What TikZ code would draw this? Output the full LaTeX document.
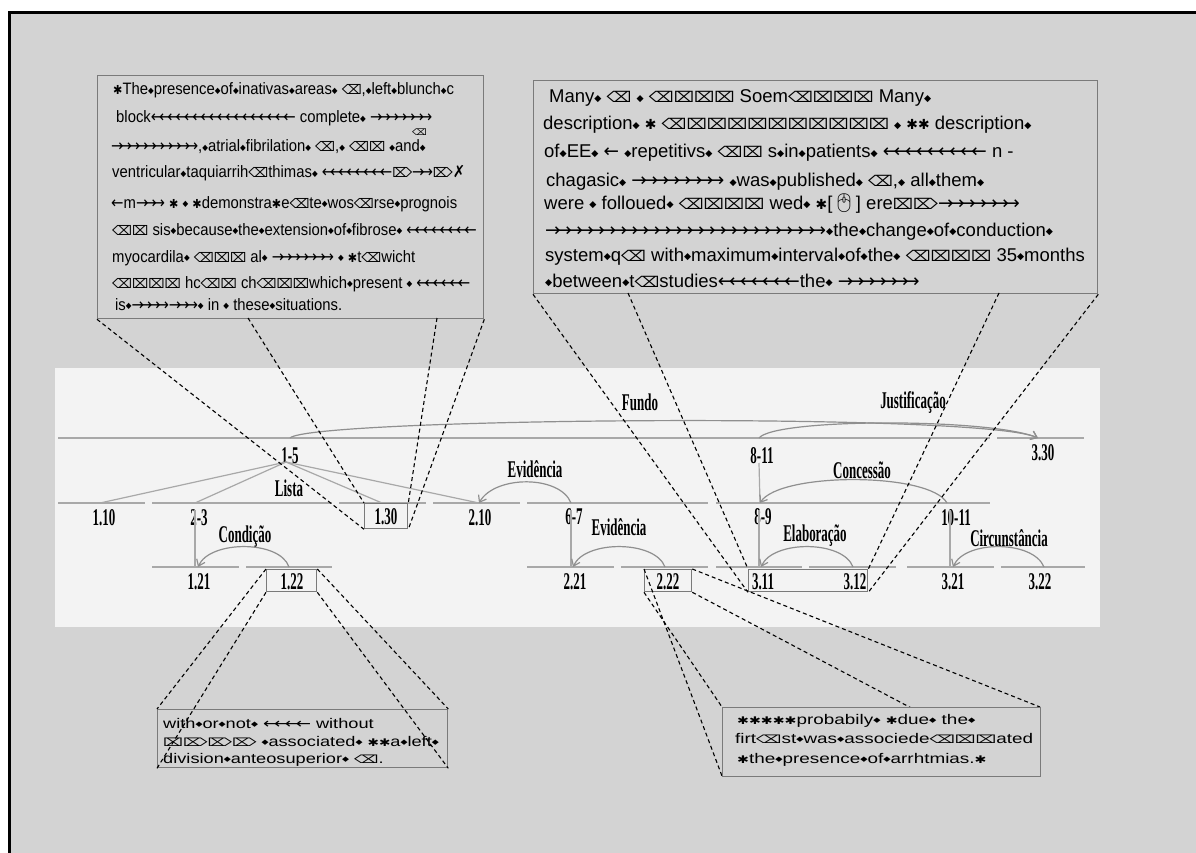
\documentclass[tikz,border=0pt]{standalone}
\usepackage{fontspec}
\usepackage{graphicx}
\usetikzlibrary{arrows.meta}
\setmainfont{Liberation Sans}
\newfontfamily\sym{DejaVu Sans}
\newfontfamily\lbf{Liberation Serif}
\newfontfamily\emj{Noto Emoji}
\definecolor{bggray}{HTML}{D3D3D3}
\definecolor{band}{HTML}{F3F3F3}
\definecolor{treeg}{HTML}{A8A8A8}
\definecolor{boxg}{HTML}{7A7A7A}

% glyph helpers
\newcommand\dmd{{\sym\raisebox{.08em}{\scalebox{.5}{◆}}}}
\newcommand\stx{{\sym\scalebox{.75}{✱}}}
\newcommand\erl{{\sym\scalebox{.95}[.8]{⌫}}}
\newcommand\err{{\sym\scalebox{.95}[.8]{⌦}}}
\newcommand\xbx{{\sym\scalebox{.95}[.8]{⌧}}}
\newcommand\chevk{.24em}
\newcommand\lchev[1]{{\sym\foreach\ii in {1,...,#1}{←\kern-\chevk}\kern\chevk}}
\newcommand\rchev[1]{{\sym\foreach\ii in {1,...,#1}{→\kern-\chevk}\kern\chevk}}
% condensed bold serif for tree labels
\newcommand\lbl[1]{\scalebox{0.54}[1]{\lbf\bfseries\fontsize{24}{24}\selectfont #1}}
% slightly narrowed sans for the left quotation
\newcommand\nrw[1]{\scalebox{0.9}[1]{#1}}

\tikzset{
  tline/.style={draw=treeg, line width=2pt},
  conn/.style={draw=treeg, line width=1.2pt},
  relarc/.style={draw=treeg!85!black, line width=1.2pt, -{Straight Barb[length=6pt,width=9pt]}},
  lead/.style={draw=black, dash pattern=on 4pt off 3pt, line width=1.1pt},
  tbox/.style={draw=boxg, line width=1.3pt, fill=bggray, inner sep=0pt, anchor=north west},
  nbox/.style={draw=boxg, line width=1.3pt, inner sep=0pt, anchor=north west},
  lab/.style={inner sep=0pt, text=black},
  txt/.style={anchor=base west, inner sep=0pt, text=black},
  ulf/.style={font=\fontsize{16.5}{18}\selectfont\def\chevk{.28em}},
  urf/.style={font=\fontsize{18.5}{20}\selectfont},
  btf/.style={font=\fontsize{14}{16}\selectfont},
}

\begin{document}
\begin{tikzpicture}[x=1pt,y=-1pt]
\useasboundingbox (0,0) rectangle (1196,853);
\fill[white] (0,0) rectangle (1196,853);
\fill[bggray] (9,13) rectangle (1196,853);
\draw[black, line width=3pt] (9,853) -- (9,13) -- (1196,13);

% light band holding the tree
\fill[band] (55,368) rectangle (1100,627);

% ---- level lines ----
\draw[tline] (58,438) -- (990,438);
\draw[tline] (997,438) -- (1084,438);
\draw[tline] (58,503) -- (145,503);
\draw[tline] (152,503) -- (332,503);
\draw[tline] (339,503) -- (426,503);
\draw[tline] (433,503) -- (520,503);
\draw[tline] (527,503) -- (708,503);
\draw[tline] (716,503) -- (990,503);
\draw[tline] (152,567) -- (239,567);
\draw[tline] (246,567) -- (332,567);
\draw[tline] (527,567) -- (614,567);
\draw[tline] (621,567) -- (708,567);
\draw[tline] (716,567) -- (802,567);
\draw[tline] (809,567) -- (896,567);
\draw[tline] (907,567) -- (994,567);
\draw[tline] (1001,567) -- (1085,567);

% ---- tree labels ----
\node[lab] (n15) at (290,456) {\lbl{1-5}};
\node[lab] (n811) at (762,456) {\lbl{8-11}};
\node[lab] (n330) at (1043,453) {\lbl{3.30}};
\node[lab] (n110) at (104,518) {\lbl{1.10}};
\node[lab] (n23) at (199,518) {\lbl{2-3}};
\node[lab] (n130) at (386,517) {\lbl{1.30}};
\node[lab] (n210) at (480,518) {\lbl{2.10}};
\node[lab] (n67) at (574,517) {\lbl{6-7}};
\node[lab] (n89) at (763,517) {\lbl{8-9}};
\node[lab] (n1011) at (956,518) {\lbl{10-11}};
\node[lab] (n121) at (199,582) {\lbl{1.21}};
\node[lab] (n122) at (292,582) {\lbl{1.22}};
\node[lab] (n221) at (575,582) {\lbl{2.21}};
\node[lab] (n222) at (668,582) {\lbl{2.22}};
\node[lab] (n311) at (763,582) {\lbl{3.11}};
\node[lab] (n312) at (855,582) {\lbl{3.12}};
\node[lab] (n321) at (953,582) {\lbl{3.21}};
\node[lab] (n322) at (1040,582) {\lbl{3.22}};

% relation names
\node[lab] (rfundo) at (640,402) {\lbl{Fundo}};
\node[lab] (rjust) at (913,403) {\lbl{Justificação}};
\node[lab] (rlista) at (289,488) {\lbl{Lista}};
\node[lab] (revid1) at (535,469) {\lbl{Evidência}};
\node[lab] (rconc) at (862,470) {\lbl{Concessão}};
\node[lab] (rcond) at (245,537) {\lbl{Condição}};
\node[lab] (revid2) at (619,527) {\lbl{Evidência}};
\node[lab] (relab) at (815,536) {\lbl{Elaboração}};
\node[lab] (rcirc) at (1009,538) {\lbl{Circunstância}};

% attachment points on the span lines
\coordinate (t15) at (290,438);
\coordinate (t811) at (759,438);
\coordinate (t330) at (1038,438);
\coordinate (b15) at (286,462);
\coordinate (c110) at (100,503);
\coordinate (c23) at (195,503);
\coordinate (c130) at (382,503);
\coordinate (c210) at (479,503);
\coordinate (c67) at (571,503);
\coordinate (c89) at (760,503);
\coordinate (c1011) at (947,503);
\coordinate (s811) at (759,463);
\coordinate (s23) at (195,510);
\coordinate (s67) at (571,510);
\coordinate (s89) at (759,510);
\coordinate (s1011) at (950,510);
\coordinate (c121) at (195,567);
\coordinate (a121) at (198,567);
\coordinate (c122) at (289,567);
\coordinate (c221) at (571,567);
\coordinate (a221) at (573,567);
\coordinate (c222) at (665,567);
\coordinate (c311) at (759,567);
\coordinate (a311) at (761,567);
\coordinate (c312) at (853,567);
\coordinate (c321) at (950,567);
\coordinate (a321) at (953,567);
\coordinate (c322) at (1044,567);

% multinuclear list under 1-5
\draw[conn] (b15) -- (c110);
\draw[conn] (b15) -- (c23);
\draw[conn] (b15) -- (c130);
\draw[conn] (b15) -- (c210);
% nucleus spans
\draw[conn] (s811) -- (c89);
\draw[conn] (s23) -- (c121);
\draw[conn] (s67) -- (c221);
\draw[conn] (s89) -- (c311);
\draw[conn] (s1011) -- (c321);

% relation arcs, satellite to nucleus
\draw[relarc] (t15) .. controls (310,418) and (980,412) .. (t330);
\draw[relarc] (t811) .. controls (775,418) and (990,418) .. (t330);
\draw[relarc] (c67) .. controls (560,475) and (495,475) .. (c210);
\draw[relarc] (c1011) .. controls (930,472) and (780,472) .. (c89);
\draw[relarc] (c122) .. controls (280,540) and (210,540) .. (a121);
\draw[relarc] (c222) .. controls (655,540) and (585,540) .. (a221);
\draw[relarc] (c312) .. controls (843,540) and (773,540) .. (a311);
\draw[relarc] (c322) .. controls (1033,540) and (965,540) .. (a321);

% frames around the quoted segments
\node[nbox, minimum width=43pt, minimum height=25pt] (b130) at (364,503) {};
\node[nbox, minimum width=50pt, minimum height=22pt] (b122) at (266,569) {};
\node[nbox, minimum width=47pt, minimum height=22pt] (b222) at (644,569) {};
\node[nbox, minimum width=119pt, minimum height=22pt] (b311) at (748,569) {};

% ---- upper left text box ----
\node[tbox, minimum width=386pt, minimum height=243pt] (ulbox) at (97,75) {};
\node[txt, ulf] (ul1) at (113,95) {\nrw{\stx The\dmd presence\dmd of\dmd inativas\dmd areas\dmd{} \erl,\dmd left\dmd blunch\dmd c}};
\node[txt, ulf] (ul2) at (116,123) {\nrw{block\lchev{17} complete\dmd{} \rchev{7}}};
\node[txt, font=\fontsize{11}{11}\selectfont] (ul2b) at (412,136) {\erl};
\node[txt, ulf] (ul3) at (111,152) {\nrw{\rchev{10},\dmd atrial\dmd fibrilation\dmd{} \erl,\dmd{} \erl\xbx{} \dmd and\dmd}};
\node[txt, ulf] (ul4) at (112,178) {\nrw{ventricular\dmd taquiarrih\erl thimas\dmd{} \lchev{8}\err\rchev{2}\err{\sym ✗}}};
\node[txt, ulf] (ul5) at (111,208) {\nrw{\lchev{1}m\rchev{3} \stx{} \dmd{} \stx demonstra\stx e\erl te\dmd wos\erl rse\dmd prognois}};
\node[txt, ulf] (ul6) at (112,235) {\nrw{\erl\xbx{} sis\dmd because\dmd the\dmd extension\dmd of\dmd fibrose\dmd{} \lchev{8}}};
\node[txt, ulf] (ul7) at (112,262) {\nrw{myocardila\dmd{} \erl\xbx\xbx{} al\dmd{} \rchev{7} \dmd{} \stx t\erl wicht}};
\node[txt, ulf] (ul8) at (112,288) {\nrw{\erl\xbx\xbx\xbx{} hc\erl\xbx{} ch\erl\xbx\xbx which\dmd present \dmd{} \lchev{6}}};
\node[txt, ulf] (ul9) at (115,310) {\nrw{is\dmd\rchev{4}\rchev{3}\dmd{} in \dmd{} these\dmd situations.}};

% ---- upper right text box ----
\node[tbox, minimum width=564pt, minimum height=213pt] (urbox) at (533,80) {};
\node[txt, urf] (ur1) at (549,103) {Many\dmd{} \erl{} \dmd{} \erl\xbx\xbx\xbx{} Soem\erl\xbx\xbx\xbx{} Many\dmd};
\node[txt, urf] (ur2) at (543,130) {description\dmd{} \stx{} \erl\xbx\xbx\xbx\xbx\xbx\xbx\xbx\xbx\xbx\xbx{} \dmd{} \stx\stx{} description\dmd};
\node[txt, urf] (ur3) at (544,158) {of\dmd EE\dmd{} \lchev{1} \dmd repetitivs\dmd{} \erl\xbx{} s\dmd in\dmd patients\dmd{} \lchev{9} n -};
\node[txt, urf] (ur4) at (546,187) {chagasic\dmd{} \rchev{8} \dmd was\dmd published\dmd{} \erl,\dmd{} all\dmd them\dmd};
\node[txt, urf] (ur5) at (544,209) {were \dmd{} folloued\dmd{} \erl\xbx\xbx\xbx{} wed\dmd{} \stx[{\emj 🖱}] ere\xbx\err\rchev{7}};
\node[txt, urf] (ur6) at (545,236) {\rchev{25}\dmd the\dmd change\dmd of\dmd conduction\dmd};
\node[txt, urf] (ur7) at (545,261) {system\dmd q\erl{} with\dmd maximum\dmd interval\dmd of\dmd the\dmd{} \erl\xbx\xbx\xbx{} 35\dmd months};
\node[txt, urf] (ur8) at (545,287) {\dmd between\dmd t\erl studies\lchev{7}the\dmd{} \rchev{7}};

% ---- bottom left text box ----
\node[tbox, minimum width=290pt, minimum height=58pt] (blbox) at (157,709) {};
\node[txt, btf] (bl1) at (163,728) {\scalebox{1.3}[1]{with\dmd or\dmd not\dmd{} \lchev{4} without}};
\node[txt, btf] (bl2) at (163,746) {\scalebox{1.3}[1]{\xbx\err\err\err{} \dmd associated\dmd{} \stx\stx a\dmd left\dmd}};
\node[txt, btf] (bl3) at (163,763) {\scalebox{1.3}[1]{division\dmd anteosuperior\dmd{} \erl.}};

% ---- leader lines ----
\coordinate (ulA) at (248,318);
\coordinate (ulB) at (437,318);
\coordinate (urA) at (628,293);
\coordinate (urB) at (999,293);
\draw[lead] (ulbox.south west) -- (b130.south west);
\draw[lead] (ulA) -- (b130.north west);
\draw[lead] (ulB) -- (b130.north east);
\draw[lead] (ulbox.south east) -- (b130.south east);
\draw[lead] (urbox.south west) -- (b311.south west);
\draw[lead] (urA) -- (b311.north west);
\draw[lead] (urB) -- (b311.north east);
\draw[lead] (urbox.south east) -- (b311.south east);
\draw[lead] (b122.north west) -- (blbox.north west);
\draw[lead] (b122.south west) -- (blbox.south west);
\draw[lead] (b122.north east) -- (blbox.north east);
\draw[lead] (b122.south east) -- (blbox.south east);
\draw[lead] (b222.north west) -- (722,776) coordinate (brsw);
\draw[lead] (b222.south west) -- (722,707) coordinate (brnw);
\draw[lead] (b222.north east) -- (1040,707) coordinate (brne);
\draw[lead] (b222.south east) -- (1040,776) coordinate (brse);

% ---- bottom right text box ----
\node[tbox, minimum width=318pt, minimum height=69pt] (brbox) at (brnw) {};
\node[txt, btf] (br1) at (737,724) {\scalebox{1.35}[1]{\stx\stx\stx\stx\stx probabily\dmd{} \stx due\dmd{} the\dmd}};
\node[txt, btf] (br2) at (735,743) {\scalebox{1.35}[1]{firt\erl st\dmd was\dmd associede\erl\xbx\xbx ated}};
\node[txt, btf] (br3) at (737,763) {\scalebox{1.35}[1]{\stx the\dmd presence\dmd of\dmd arrhtmias.\stx}};
\end{tikzpicture}
\end{document}
